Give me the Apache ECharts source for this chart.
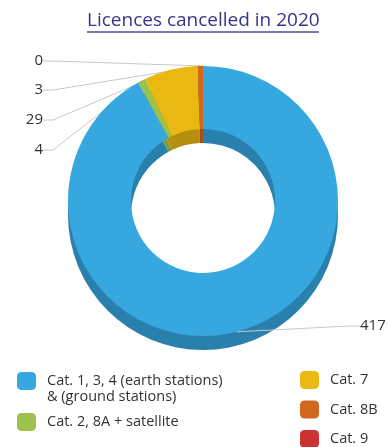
<!DOCTYPE html>
<html>
<head>
<meta charset="utf-8">
<script src="https://cdn.jsdelivr.net/npm/echarts@6/dist/echarts.min.js"></script>
<style>
html, body { margin: 0; padding: 0; background: #fff; }
#licences { width: 389px; height: 447px; }
</style>
</head>
<body>
<div id="licences"></div>
<script>
// data
var categories = ['Cat. 1, 3, 4 (earth stations)\n& (ground stations)', 'Cat. 2, 8A + satellite', 'Cat. 7', 'Cat. 8B', 'Cat. 9'];
var cancelled = [417, 4, 29, 3, 0];

var faceColors = ['#36a7df', '#9dc24b', '#e9b813', '#d2681d', '#cb3333'];
var sideColors = ['#2a80ad', '#7b9a38', '#b58f12', '#a34f15', '#9c2626'];

// where each value label sits (dataIndex -> x, y, align)
var labelSpots = {
    0: [360, 326, 'left'],
    1: [43, 150, 'right'],
    2: [43, 120, 'right'],
    3: [43, 90, 'right'],
    4: [43, 61, 'right']
};

var chart = echarts.init(document.getElementById('licences'));

var faceData = categories.map(function (name, i) {
    return { name: name, value: cancelled[i], itemStyle: { color: faceColors[i] } };
});
var sideData = categories.map(function (name, i) {
    return { name: name, value: cancelled[i], itemStyle: { color: sideColors[i] } };
});

var center = [203, 201];
var radius = [72, 135];
var depth = 14;
var font = 'Open Sans';

chart.setOption({
    animation: false,
    textStyle: { fontFamily: font },
    title: {
        text: 'Licences cancelled in 2020',
        left: 82,
        top: 6,
        textStyle: { fontSize: 19, fontWeight: 'normal', color: '#35358b', fontFamily: font }
    },
    graphic: [{
        type: 'line',
        shape: { x1: 87, y1: 32, x2: 319, y2: 32 },
        style: { stroke: '#4d4d9e', lineWidth: 1.5 }
    }],
    legend: [{
        orient: 'vertical',
        left: 17,
        top: 357,
        padding: 0,
        height: 90,
        itemWidth: 19,
        itemHeight: 18,
        itemGap: 8,
        icon: 'roundRect',
        selectedMode: false,
        textStyle: { fontSize: 14.5, color: '#333', padding: [0, 0, 0, 6], lineHeight: 16, fontFamily: font },
        // an empty first line keeps the wrapped label's first row level with its swatch
        formatter: function (name) {
            return name.indexOf('\n') > -1 ? '\n' + name : name;
        },
        data: [categories[0], categories[1]]
    }, {
        orient: 'vertical',
        left: 300,
        top: 371,
        padding: 0,
        height: 90,
        itemWidth: 19,
        itemHeight: 18,
        itemGap: 11.5,
        icon: 'roundRect',
        selectedMode: false,
        textStyle: { fontSize: 14.5, color: '#333', padding: [0, 0, 0, 6], fontFamily: font },
        data: [categories[2], categories[3], categories[4]]
    }],
    series: [{
        name: 'face',
        type: 'pie',
        z: 3,
        center: center,
        radius: radius,
        startAngle: 90,
        clockwise: true,
        avoidLabelOverlap: false,
        emphasis: { disabled: true },
        label: {
            show: true,
            position: 'outside',
            formatter: '{c}',
            fontSize: 15,
            color: '#333',
            fontFamily: font
        },
        labelLine: {
            show: true,
            length: 10,
            length2: 10,
            lineStyle: { color: '#c8c8c8', width: 1 }
        },
        labelLayout: function (params) {
            var spot = labelSpots[params.dataIndex];
            return { x: spot[0], y: spot[1], align: spot[2], verticalAlign: 'middle' };
        },
        data: faceData
    }, {
        name: 'side',
        type: 'pie',
        z: 2,
        silent: true,
        legendHoverLink: false,
        center: [center[0], center[1] + depth],
        radius: radius,
        startAngle: 90,
        clockwise: true,
        emphasis: { disabled: true },
        label: { show: false },
        labelLine: { show: false },
        data: sideData
    }]
});
</script>
</body>
</html>
